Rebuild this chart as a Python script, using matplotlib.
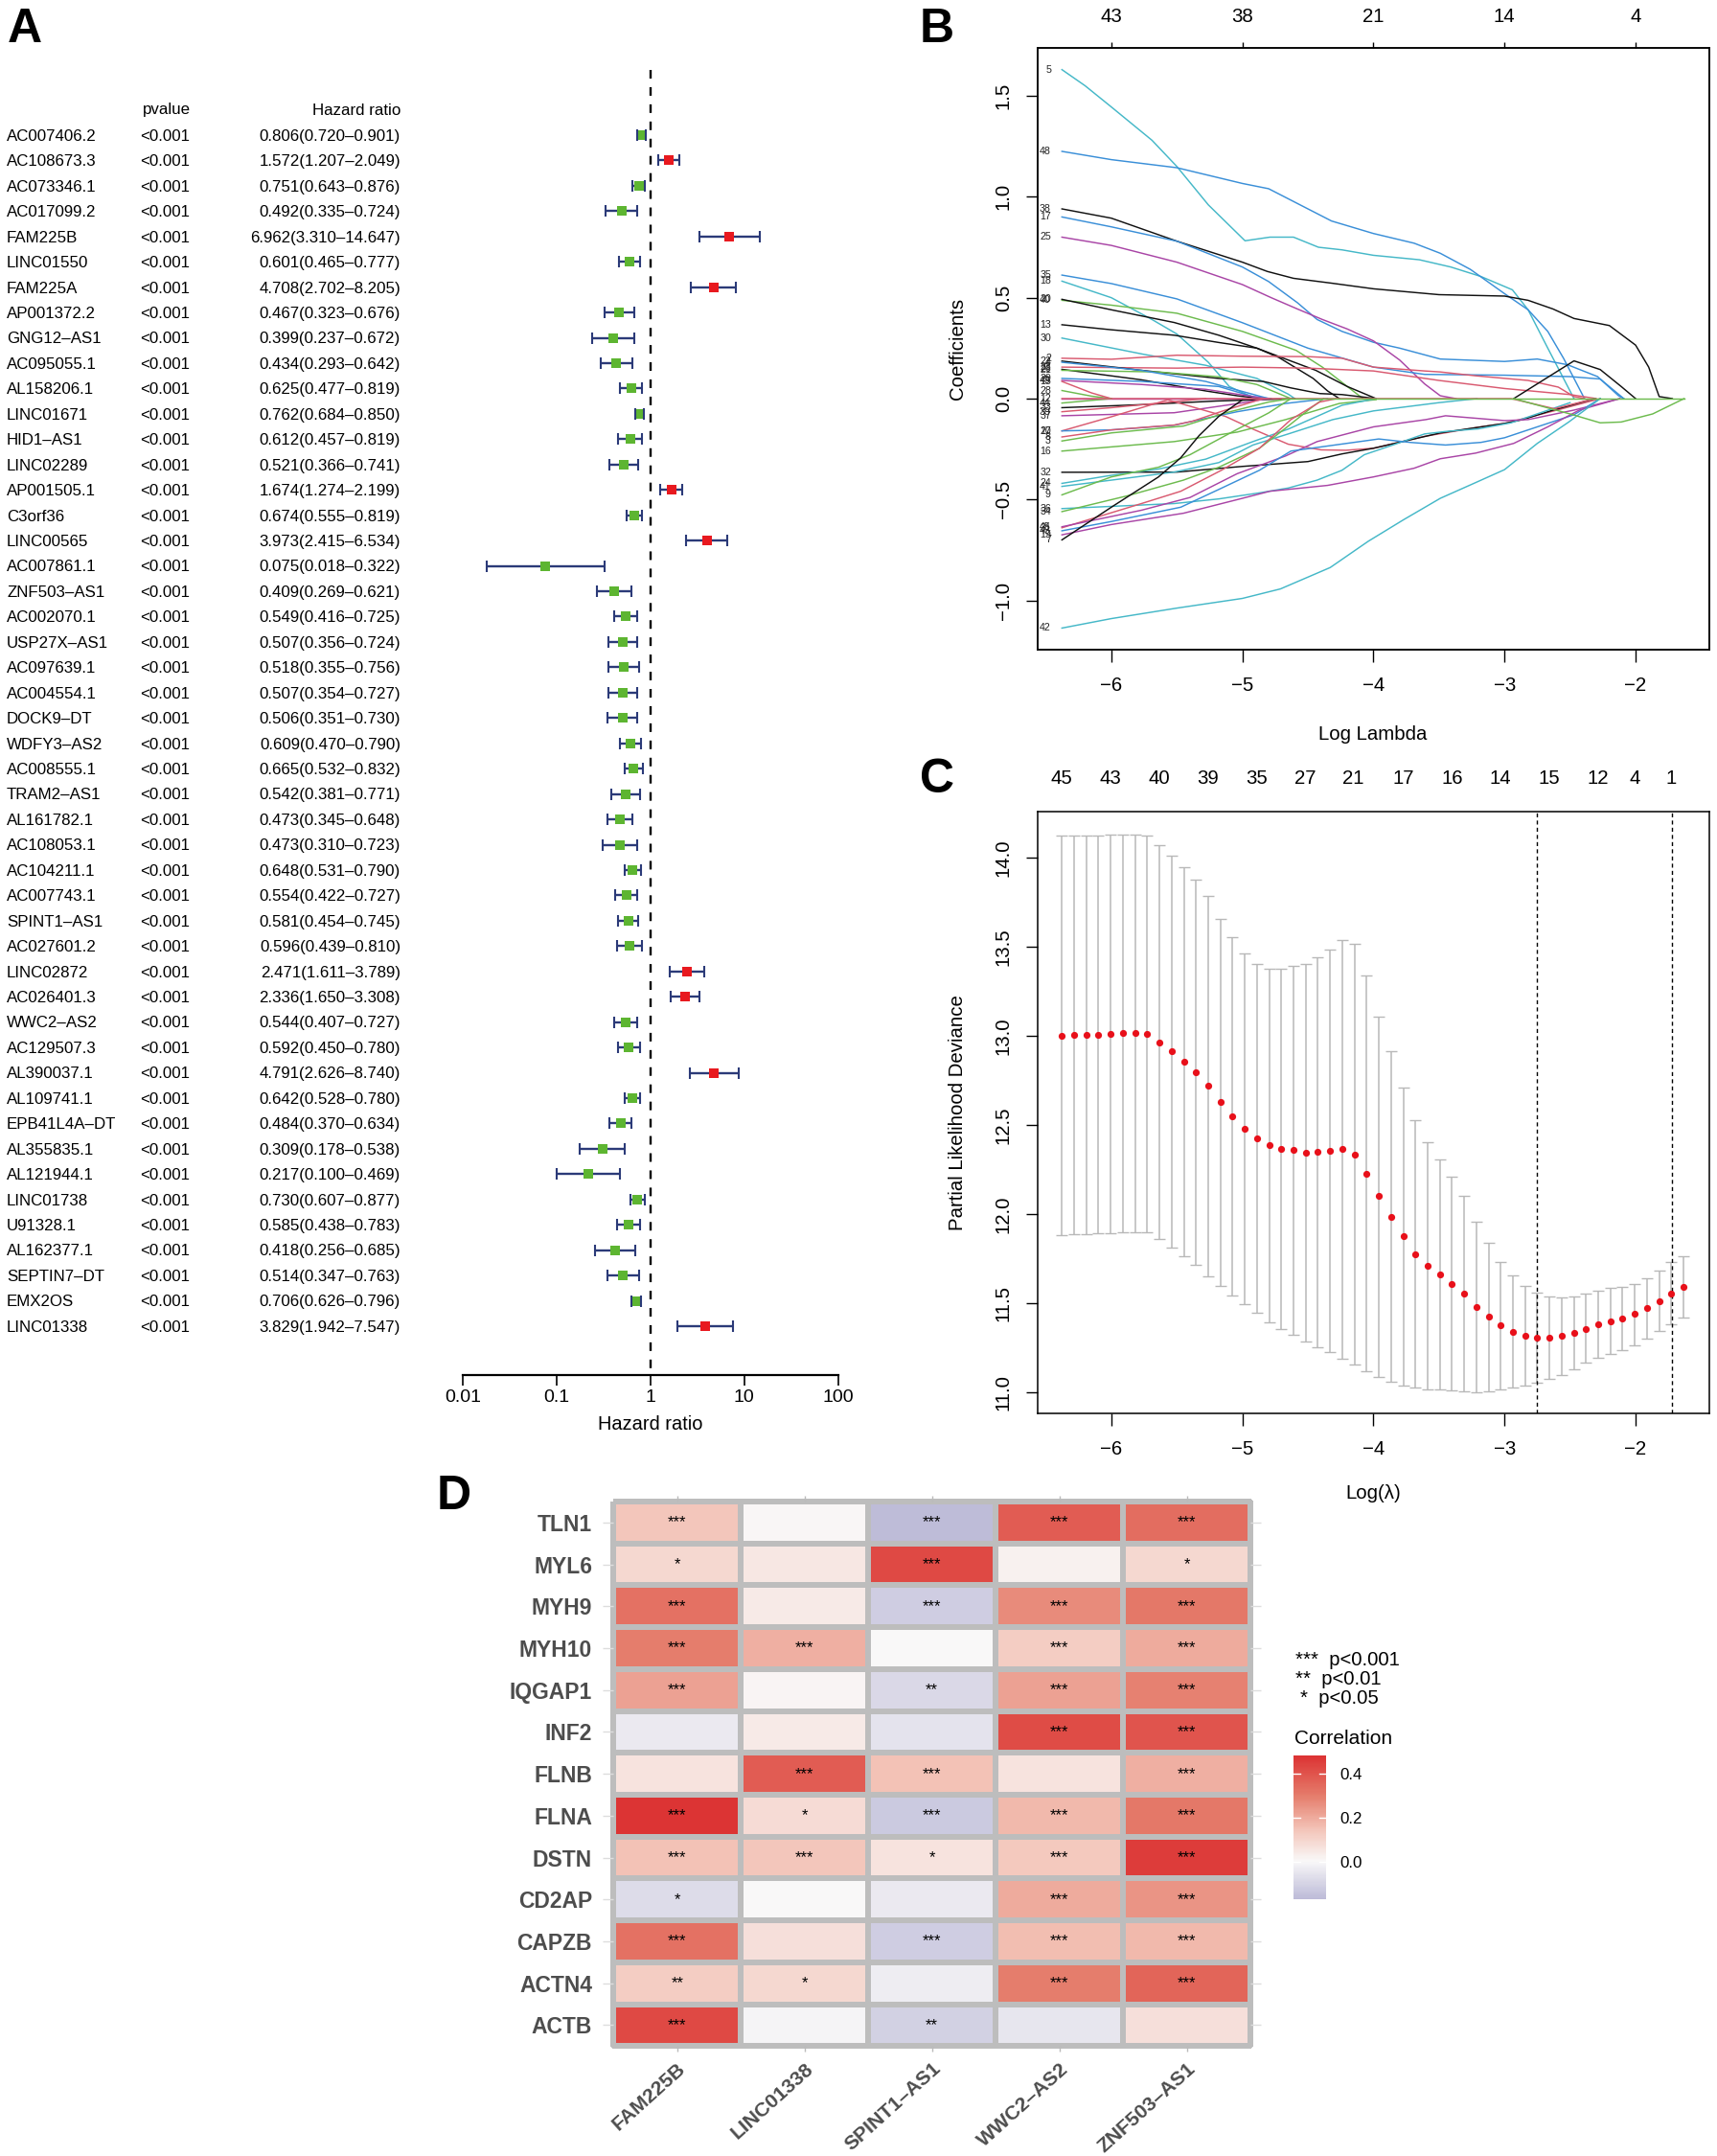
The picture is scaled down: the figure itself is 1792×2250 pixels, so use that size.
import numpy as np
import matplotlib
matplotlib.use("Agg")
import matplotlib.pyplot as plt
from matplotlib.colors import LinearSegmentedColormap, Normalize
from matplotlib.transforms import blended_transform_factory as btf

plt.rcParams['font.family'] = ['Liberation Sans', 'DejaVu Sans']
W, H = 1792, 2250

# ---------- panel A ----------
genes = ["AC007406.2","AC108673.3","AC073346.1","AC017099.2","FAM225B","LINC01550","FAM225A","AP001372.2",
 "GNG12\u2013AS1","AC095055.1","AL158206.1","LINC01671","HID1\u2013AS1","LINC02289","AP001505.1","C3orf36",
 "LINC00565","AC007861.1","ZNF503\u2013AS1","AC002070.1","USP27X\u2013AS1","AC097639.1","AC004554.1","DOCK9\u2013DT",
 "WDFY3\u2013AS2","AC008555.1","TRAM2\u2013AS1","AL161782.1","AC108053.1","AC104211.1","AC007743.1","SPINT1\u2013AS1",
 "AC027601.2","LINC02872","AC026401.3","WWC2\u2013AS2","AC129507.3","AL390037.1","AL109741.1","EPB41L4A\u2013DT",
 "AL355835.1","AL121944.1","LINC01738","U91328.1","AL162377.1","SEPTIN7\u2013DT","EMX2OS","LINC01338"]
hr = [0.806,1.572,0.751,0.492,6.962,0.601,4.708,0.467,0.399,0.434,0.625,0.762,0.612,0.521,1.674,0.674,
      3.973,0.075,0.409,0.549,0.507,0.518,0.507,0.506,0.609,0.665,0.542,0.473,0.473,0.648,0.554,0.581,
      0.596,2.471,2.336,0.544,0.592,4.791,0.642,0.484,0.309,0.217,0.730,0.585,0.418,0.514,0.706,3.829]
hr_low = [0.720,1.207,0.643,0.335,3.310,0.465,2.702,0.323,0.237,0.293,0.477,0.684,0.457,0.366,1.274,0.555,
      2.415,0.018,0.269,0.416,0.356,0.355,0.354,0.351,0.470,0.532,0.381,0.345,0.310,0.531,0.422,0.454,
      0.439,1.611,1.650,0.407,0.450,2.626,0.528,0.370,0.178,0.100,0.607,0.438,0.256,0.347,0.626,1.942]
hr_high = [0.901,2.049,0.876,0.724,14.647,0.777,8.205,0.676,0.672,0.642,0.819,0.850,0.819,0.741,2.199,0.819,
      6.534,0.322,0.621,0.725,0.724,0.756,0.727,0.730,0.790,0.832,0.771,0.648,0.723,0.790,0.727,0.745,
      0.810,3.789,3.308,0.727,0.780,8.740,0.780,0.634,0.538,0.469,0.877,0.783,0.685,0.763,0.796,7.547]

# ---------- panel B ----------
p5 = ([-6.377,-6.2,-6,-5.69,-5.5,-5.26,-4.98,-4.79,-4.61,-4.42,-4.24,-4,-3.65,-3.41,-3.18,-2.94,-2.82,-2.67,-2.47],
      [1.63,1.55,1.445,1.28,1.15,.96,.782,.80,.80,.75,.737,.71,.688,.652,.605,.539,.44,.25,0])
p48 = ([-6.377,-6,-5.5,-5,-4.8,-4.59,-4.32,-4,-3.69,-3.49,-3.26,-3,-2.82,-2.67,-2.55,-2.39],
       [1.225,1.184,1.144,1.066,1.04,.97,.88,.818,.77,.72,.64,.52,.44,.333,.2,0])
p38 = ([-6.377,-6,-5.5,-5,-4.81,-4.61,-4.32,-4,-3.5,-3,-2.82,-2.63,-2.47,-2.2,-2,-1.9,-1.82,-1.72],
       [.94,.894,.78,.676,.63,.596,.572,.544,.515,.508,.487,.444,.397,.362,.265,.156,.01,0])
p17 = ([-6.377,-6,-5.5,-5,-4.8,-4.58,-4.43,-4.24,-4,-3.8,-3.49,-3,-2.75,-2.52,-2.29,-2.13,-2.09],
       [.9,.851,.78,.652,.58,.475,.392,.333,.279,.25,.196,.184,.196,.168,.109,.014,0])
p25 = ([-6.377,-6,-5.5,-5,-4.78,-4.58,-4.39,-4.2,-4,-3.8,-3.61,-3.49,-3.37],
       [.80,.759,.676,.565,.5,.444,.392,.345,.286,.191,.073,.014,0])
p35 = ([-6.377,-6,-5.5,-5,-4.5,-4,-3.61,-3,-2.5,-2.27,-2.09],
       [.612,.57,.494,.376,.25,.156,.12,.116,.109,.097,0])
p18 = ([-6.377,-6,-5.69,-5.5,-5.26,-5.1,-4.9],[.582,.5,.392,.32,.18,.06,0])
p40 = ([-6.377,-6,-5.5,-5,-4.59,-4.39,-4.2,-4.08],[.487,.463,.423,.333,.239,.156,.06,0])
p20 = ([-6.377,-6,-5.52,-5.18,-4.89,-4.72,-4.46,-4.35,-4.26],[.492,.44,.377,.314,.25,.203,.1,.038,0])
p13 = ([-6.377,-6,-5.52,-5.18,-4.89,-4.67,-4.44,-4.2,-3.98],[.366,.341,.314,.278,.25,.196,.14,.06,0])
p30 = ([-6.377,-5.75,-5.28,-4.89,-4.65,-4.6],[.3,.219,.165,.1,.022,0])
p2 = ([-6.377,-6,-5.5,-5,-4.5,-4.24,-4,-3.61,-3.49,-3.22,-2.82,-2.59,-2.47,-2.39],
      [.2,.195,.215,.21,.208,.2,.156,.137,.132,.113,.09,.057,.01,0])
p23 = ([-6.377,-5.5,-5,-4.5,-4,-3.5,-3,-2.5,-2.3],[.156,.151,.156,.151,.137,.09,.05,.02,0])
p22 = ([-6.377,-5.77,-5.18,-4.84,-4.63,-4.41,-4.24,-3.98],[.186,.14,.1,.085,.053,.025,.02,0])
p26 = ([-6.377,-5.77,-5.28,-5.04,-4.84],[.145,.093,.038,.014,0])
p_g26 = ([-6.377,-5.64,-5.18,-4.89,-4.63],[.14,.132,.108,.07,0])
p_b22 = ([-6.377,-5.77,-5.28,-4.8],[.18,.14,.085,0])
p29 = ([-6.377,-5.77,-5.18,-4.92,-4.78],[.1,.085,.06,.01,0])
p49 = ([-6.377,-5.77,-5.28,-4.82],[.09,.07,.046,0])
p28 = ([-6.377,-6.15,-6.0],[.04,.012,0])
p12 = ([-6.377,-4.8],[0.0,0.0])
p15 = ([-6.377,-6.15,-6.0],[.085,.028,0])
p44 = ([-6.377,-6.0],[-.022,0])
p33 = ([-6.377,-5.77,-5.2,-4.6],[-.045,-.03,-.012,0])
p39 = ([-6.377,-6,-5.52,-5.28],[-.065,-.045,-.015,0])
p37 = ([-6.377,-5.52,-5.04,-4.8],[-.085,-.07,-.025,0])
p10 = ([-6.377,-6,-5.57,-5.13,-4.92,-4.65,-4.4,-4.21,-4,-3.61,-3.22,-3,-2.6,-2.27],
       [-.16,-.09,-.006,-.088,-.151,-.226,-.254,-.256,-.246,-.187,-.144,-.123,-.057,0])
p27 = ([-6.377,-6,-5.52,-5.38,-5.04,-4.67,-4.35],[-.16,-.155,-.132,-.112,-.065,-.024,0])
p8 = ([-6.377,-6,-5.52,-5.38,-5.13,-4.84],[-.19,-.155,-.131,-.112,-.057,0])
p3 = ([-6.377,-6,-5.45,-5.13,-4.8,-4.63],[-.21,-.17,-.136,-.071,-.017,0])
p16 = ([-6.377,-5.52,-5.04,-4.67,-4.43,-4.26,-3.98],[-.26,-.213,-.166,-.104,-.057,-.024,-.005])
p32 = ([-6.377,-5.5,-5,-4.5,-4.24,-4,-3.69,-3.49,-3.22,-3,-2.86,-2.63,-2.31],
       [-.365,-.364,-.336,-.312,-.274,-.246,-.2,-.17,-.144,-.123,-.104,-.057,0])
p_b = ([-6.377,-2.95,-2.62,-2.31],[0.0,0.0,-.05,0])
p14 = ([-2.93,-2.47,-2.27,-2.11,-2],[0,.187,.144,.06,0])
p24 = ([-6.377,-6,-5.64,-5.28,-4.92,-4.65,-4.43,-4.24,-3.98],[-.42,-.38,-.349,-.3,-.213,-.151,-.088,-.033,0])
p41 = ([-6.377,-6,-5.52,-5.18,-4.92,-4.65,-4.31,-4,-3.5,-3.21],[-.435,-.404,-.364,-.317,-.23,-.175,-.104,-.061,-.02,0])
p9 = ([-6.377,-6,-5.64,-5.4,-5.08,-4.8,-4.63],[-.477,-.388,-.34,-.278,-.166,-.071,0])
p36 = ([-6.377,-5.52,-5.18,-4.87,-4.65,-4.43,-4.24,-4.07,-3.83,-3.61,-3.45,-3.2,-2.95,-2.5],
       [-.545,-.52,-.497,-.467,-.443,-.404,-.355,-.278,-.225,-.175,-.163,-.15,-.12,-.02])
p34 = ([-6.377,-5.88,-5.45,-5.18,-4.87,-4.65,-4.48,-4.38],[-.56,-.482,-.404,-.34,-.246,-.136,-.048,0])
p31 = ([-6.377,-5.77,-5.47,-5.16,-4.87,-4.63,-4.41,-4.28],[-.64,-.52,-.459,-.355,-.246,-.104,-.017,0])
p45 = ([-6.377,-5.77,-5.4,-5.04,-4.67,-4.43,-4,-3.6,-3.45,-3,-2.82,-2.47,-2.12],
       [-.635,-.553,-.49,-.372,-.284,-.213,-.14,-.104,-.085,-.109,-.104,-.057,0])
p43 = ([-6.377,-6,-5.47,-5.18,-4.87,-4.63,-3.96,-3.72,-3.45,-3.18,-3,-2.75,-2.47,-2.27],
       [-.655,-.609,-.538,-.45,-.355,-.26,-.2,-.217,-.23,-.217,-.194,-.14,-.08,0])
p19 = ([-6.377,-6,-5.45,-5,-4.79,-4.35,-4,-3.69,-3.49,-3.22,-2.93,-2.67,-2.43,-2.12],
       [-.675,-.624,-.568,-.494,-.459,-.43,-.388,-.345,-.298,-.27,-.222,-.14,-.057,0])
p7 = ([-6.377,-6,-5.64,-5.47,-5.33,-5.18,-5],[-.7,-.538,-.388,-.293,-.183,-.088,-.006])
p42 = ([-6.377,-6,-5.5,-5,-4.71,-4.33,-4.04,-3.77,-3.49,-3.22,-3,-2.75,-2.51,-2.27],
       [-1.137,-1.09,-1.038,-.99,-.943,-.837,-.707,-.6,-.494,-.416,-.352,-.222,-.116,0])
p_g = ([-2.93,-2.5,-2.27,-2.11,-1.87,-1.63],[0,-.076,-.12,-.116,-.076,0])
p_zero = ([-4.7,-1.63],[0.0,0.0])

coef_lines = [
 ("5","cy",p5),("48","bl",p48),("38","k",p38),("17","bl",p17),("25","mg",p25),("35","bl",p35),("18","cy",p18),
 ("40","gr",p40),("20","k",p20),("13","k",p13),("30","cy",p30),("2","rd",p2),("23","rd",p23),("22","k",p22),
 ("26","k",p26),("21","gr",p_g26),("4","bl",p_b22),("29","bl",p29),("49","mg",p49),("28","gr",p28),("12","mg",p12),
 ("15","rd",p15),("44","gr",p44),("33","k",p33),("39","rd",p39),("37","mg",p37),("10","rd",p10),("27","bl",p27),
 ("8","rd",p8),("3","gr",p3),("16","gr",p16),("32","k",p32),("24","cy",p24),("41","cy",p41),("9","gr",p9),
 ("36","cy",p36),("34","gr",p34),("31","rd",p31),("45","mg",p45),("43","bl",p43),("19","mg",p19),("7","k",p7),
 ("42","cy",p42),("","rd",p_b),("","k",p14),("","gr",p_g),("","gr",p_zero)]
b_xticks = [-6,-5,-4,-3,-2]
b_yticks = [-1.0,-0.5,0.0,0.5,1.0,1.5]
b_top_labels = ["43","38","21","14","4"]

# ---------- panel C ----------
log_lambda = [-6.377,-6.284,-6.191,-6.098,-6.005,-5.912,-5.819,-5.726,-5.633,-5.540,-5.447,-5.354,-5.261,-5.168,-5.075,
 -4.982,-4.889,-4.796,-4.703,-4.610,-4.517,-4.424,-4.331,-4.238,-4.145,-4.052,-3.959,-3.866,-3.773,-3.680,-3.587,
 -3.494,-3.401,-3.308,-3.215,-3.122,-3.029,-2.936,-2.843,-2.750,-2.657,-2.564,-2.471,-2.378,-2.285,-2.192,-2.099,
 -2.006,-1.913,-1.820,-1.727,-1.634]
cv_mean = [13.004,13.007,13.009,13.009,13.012,13.015,13.015,13.012,12.963,12.913,12.856,12.795,12.721,12.631,12.551,
 12.480,12.425,12.389,12.367,12.359,12.345,12.348,12.356,12.364,12.337,12.227,12.101,11.985,11.876,11.774,11.711,
 11.662,11.609,11.552,11.480,11.423,11.376,11.340,11.316,11.307,11.307,11.318,11.335,11.357,11.382,11.401,11.417,
 11.439,11.472,11.513,11.557,11.593]
cv_up = [14.124,14.127,14.127,14.127,14.129,14.132,14.132,14.127,14.072,14.011,13.948,13.880,13.789,13.660,13.558,
 13.465,13.407,13.380,13.377,13.394,13.407,13.440,13.487,13.539,13.520,13.339,13.111,12.913,12.710,12.529,12.403,
 12.307,12.211,12.101,11.958,11.837,11.733,11.656,11.596,11.560,11.538,11.535,11.541,11.554,11.571,11.585,11.593,
 11.609,11.642,11.686,11.730,11.766]
cv_lo = [11.884,11.887,11.889,11.892,11.895,11.898,11.900,11.898,11.862,11.815,11.766,11.714,11.651,11.598,11.546,
 11.494,11.445,11.395,11.354,11.324,11.288,11.255,11.225,11.189,11.156,11.118,11.085,11.060,11.038,11.025,11.019,
 11.016,11.011,11.005,11.003,11.008,11.016,11.030,11.038,11.052,11.074,11.099,11.129,11.165,11.195,11.217,11.239,
 11.266,11.302,11.343,11.384,11.420]
c_vlines = [-2.75,-1.725]
c_top_x = [-6.377,-6.005,-5.633,-5.261,-4.889,-4.517,-4.152,-3.773,-3.401,-3.029,-2.657,-2.285,-2.006,-1.727]
c_top_labels = ["45","43","40","39","35","27","21","17","16","14","15","12","4","1"]
c_yticks = [11.0,11.5,12.0,12.5,13.0,13.5,14.0]

# ---------- panel D ----------
d_rows = ["TLN1","MYL6","MYH9","MYH10","IQGAP1","INF2","FLNB","FLNA","DSTN","CD2AP","CAPZB","ACTN4","ACTB"]
d_cols = ["FAM225B","LINC01338","SPINT1\u2013AS1","WWC2\u2013AS2","ZNF503\u2013AS1"]
d_vals = [[.14,.005,-.17,.38,.34],[.09,.05,.43,.02,.09],[.33,.04,-.12,.27,.31],[.30,.19,.0,.12,.20],
          [.22,.01,-.09,.22,.29],[-.04,.04,-.06,.42,.40],[.06,.38,.15,.06,.19],[.48,.08,-.13,.17,.31],
          [.15,.14,.06,.13,.46],[-.08,.0,-.04,.20,.25],[.33,.07,-.12,.16,.17],[.12,.09,-.03,.30,.36],
          [.43,-.01,-.11,-.05,.07]]
d_stars = [["***","","***","***","***"],["*","","***","","*"],["***","","***","***","***"],["***","***","","***","***"],
           ["***","","**","***","***"],["","","","***","***"],["","***","***","","***"],["***","*","***","***","***"],
           ["***","***","*","***","***"],["*","","","***","***"],["***","","***","***","***"],["**","*","","***","***"],
           ["***","","**","",""]]

# ---------- drawing ----------
fig = plt.figure(figsize=(W/100, H/100), dpi=100, facecolor="white")
def axpx(x0, y0, x1, y1):
    return fig.add_axes([x0/W, 1-y1/H, (x1-x0)/W, (y1-y0)/H])
def figtext(x, y, s, **kw):
    return fig.text(x/W, 1-y/H, s, **kw)

for s, x, y, fs in [("A",8,44,36),("B",960,44,36),("C",960,827,36),("D",456,1575,36)]:
    figtext(x, y, s, fontsize=fs, fontweight="bold", ha="left", va="baseline")

# A
ax = axpx(482.8, 73, 874.8, 1435)
ax.set_xscale("log")
ax.set_xlim(0.01, 100)
row_px = 1243/47
y_bottom, y_top = 47+(1435-1384)/row_px, -(141-73)/row_px
ax.set_ylim(y_bottom, y_top)
for sp in ["top","left","right"]:
    ax.spines[sp].set_visible(False)
ax.spines["bottom"].set_linewidth(1.6)
ax.set_yticks([])
ax.set_xticks([0.01,0.1,1,10,100])
ax.set_xticklabels(["0.01","0.1","1","10","100"], fontsize=14)
ax.minorticks_off()
ax.tick_params(axis="x", length=8, width=1.2, pad=3)
ax.set_xlabel("Hazard ratio", fontsize=14.4, labelpad=7)
ax.patch.set_alpha(0)
ax.plot([1,1],[y_top,y_bottom], color="black", lw=1.7, linestyle=(0,(3.8,3.8)), zorder=1)
trx = btf(fig.transFigure, ax.transData)
navy = "#2B3A78"
txt_dy = 0.05
for i, g in enumerate(genes):
    ax.plot([hr_low[i],hr_high[i]],[i,i], color=navy, lw=1.7, zorder=2, solid_capstyle="butt")
    ax.plot(hr[i], i, ls="none", marker="s", ms=7.8, mew=0, color="#E8191F" if hr[i]>1 else "#5DB531", zorder=3)
    ax.plot([hr_low[i],hr_high[i]],[i,i], ls="none", marker="|", ms=9, mew=1.5, color=navy, zorder=4)
    ax.text(7/W, i+txt_dy, g, transform=trx, fontsize=12.2, ha="left", va="center")
    ax.text(146/W, i+txt_dy, "<0.001", transform=trx, fontsize=12.2, ha="left", va="center")
    ax.text(418/W, i+txt_dy, f"{hr[i]:.3f}({hr_low[i]:.3f}\u2013{hr_high[i]:.3f})", transform=trx, fontsize=12.2, ha="right", va="center")
ax.text(174/W, -1.0, "pvalue", transform=trx, fontsize=12.2, ha="center", va="center")
ax.text(418/W, -0.98, "Hazard ratio", transform=trx, fontsize=12.2, ha="right", va="center")

def rbox(ax):
    for sp in ax.spines.values():
        sp.set_linewidth(1.1)
    ax.tick_params(length=9, width=1.0, labelsize=14.7)
    ax.tick_params(axis="x", pad=11)
    ax.tick_params(axis="y", pad=9.5)
    for t in ax.get_yticklabels():
        t.set_rotation(90); t.set_va("center")

# B
palette = {"k":"#111111","rd":"#D95A70","gr":"#6DBB4E","bl":"#3A8FD8","cy":"#45B8C8","mg":"#A945A6"}
ax = axpx(1082.6, 49.7, 1783.5, 678)
for lab, c, (xs, ys) in coef_lines:
    ax.plot(xs, ys, color=palette[c], lw=1.05)
    if lab:
        ax.text(-6.46, ys[0], lab, fontsize=7.7, ha="right", va="center", color="#222222")
ax.set_xlim(-6.565,-1.441); ax.set_ylim(-1.244,1.739)
ax.set_xticks(b_xticks); ax.set_xticklabels([f"\u2212{abs(v)}" for v in b_xticks])
ax.set_yticks(b_yticks); ax.set_yticklabels([f"{v:.1f}".replace("-","\u2212") for v in b_yticks])
rbox(ax)
ax.set_xlabel("Log Lambda", fontsize=14.7, labelpad=23)
ax.set_ylabel("Coefficients", fontsize=14.7, labelpad=21)
top = ax.twiny()
top.set_xlim(ax.get_xlim())
top.set_xticks(b_xticks); top.set_xticklabels(b_top_labels, fontsize=14.7)
top.tick_params(length=4.5, width=1.0, pad=12)
for sp in top.spines.values():
    sp.set_linewidth(1.1)

# C
ax = axpx(1082.6, 847, 1783.5, 1475.4)
ax.errorbar(log_lambda, cv_mean, yerr=[np.subtract(cv_mean,cv_lo), np.subtract(cv_up,cv_mean)], fmt="none",
            ecolor="#B8B8B8", elinewidth=1.1, capsize=4.6, capthick=1.0, zorder=1)
ax.plot(log_lambda, cv_mean, ls="none", marker="o", ms=5.2, mew=0, color="#E8101A", zorder=3)
for v in c_vlines:
    ax.axvline(v, color="black", lw=1.0, ls=(0,(3,2.4)), zorder=2)
ax.set_xlim(-6.565,-1.441); ax.set_ylim(10.88,14.26)
ax.set_xticks(b_xticks); ax.set_xticklabels([f"\u2212{abs(v)}" for v in b_xticks])
ax.set_yticks(c_yticks); ax.set_yticklabels([f"{v:.1f}" for v in c_yticks])
rbox(ax)
ax.set_xlabel("Log(\u03bb)", fontsize=14.7, labelpad=19)
ax.set_ylabel("Partial Likelihood Deviance", fontsize=14.7, labelpad=21)
for x, s in zip(c_top_x, c_top_labels):
    ax.text(x, 1.0+(847-812)/628.4, s, transform=btf(ax.transData, ax.transAxes), fontsize=14.7, ha="center", va="center")

# D
vmin, vmax = -0.173, 0.484
def frac(v):
    return (v-vmin)/(vmax-vmin)
cmap = LinearSegmentedColormap.from_list("corr", [(0,"#BDBBD8"),(frac(0),"#F9F8F8"),(frac(.15),"#F3C2B6"),
                                                  (frac(.3),"#E57D6C"),(1,"#DC3333")])
norm = Normalize(vmin, vmax)
ax = axpx(640.3, 1567, 1305, 2135.3)
grey = "#BDBDBD"
mesh = ax.pcolormesh(np.array(d_vals), cmap=cmap, norm=norm, edgecolors=grey, linewidth=2.9, clip_on=False)
ax.set_xlim(0,5); ax.set_ylim(13,0)
for sp in ax.spines.values():
    sp.set_visible(False)
for r in range(13):
    for c in range(5):
        if d_stars[r][c]:
            ax.text(c+.5, r+.5, d_stars[r][c], fontsize=12, ha="center", va="center", color="black")
ax.set_xticks(np.arange(5)+.5); ax.set_yticks(np.arange(13)+.5)
ax.set_yticklabels(d_rows, fontsize=16.5, fontweight="bold", color="#4D4D4D")
ax.set_xticklabels(d_cols, fontsize=15.2, fontweight="bold", color="#4D4D4D", rotation=42, ha="right", va="top", rotation_mode="anchor")
ax.tick_params(axis="y", length=8, width=1, color="#DDDDDD", left=True, right=True, pad=8)
ax.tick_params(axis="x", length=4, width=1, color="#BBBBBB", bottom=True, top=True, pad=6)

figtext(1352, 1732, "***  p<0.001", fontsize=14.6, ha="left", va="center")
figtext(1352, 1752, "**  p<0.01", fontsize=14.6, ha="left", va="center")
figtext(1357, 1773, "*  p<0.05", fontsize=14.6, ha="left", va="center")
figtext(1351, 1815, "Correlation", fontsize=15, ha="left", va="center")
cax = axpx(1350, 1832, 1384, 1982)
cax.pcolormesh([0,1], [float(v) for v in np.linspace(vmin,vmax,129)], np.linspace(vmin,vmax,128).reshape(-1,1), cmap=cmap, norm=norm)
cax.set_xlim(0,1); cax.set_ylim(vmin,vmax)
for sp in cax.spines.values():
    sp.set_visible(False)
cax.set_xticks([])
cax.yaxis.tick_right()
cax.set_yticks([0,0.2,0.4]); cax.set_yticklabels(["0.0","0.2","0.4"], fontsize=12.2)
cax.tick_params(axis="y", length=0, pad=10)
for v in [0,0.2,0.4]:
    cax.plot([0,.2],[v,v], color="white", lw=1); cax.plot([.8,1],[v,v], color="white", lw=1)

fig.savefig("out.png", dpi=100)
